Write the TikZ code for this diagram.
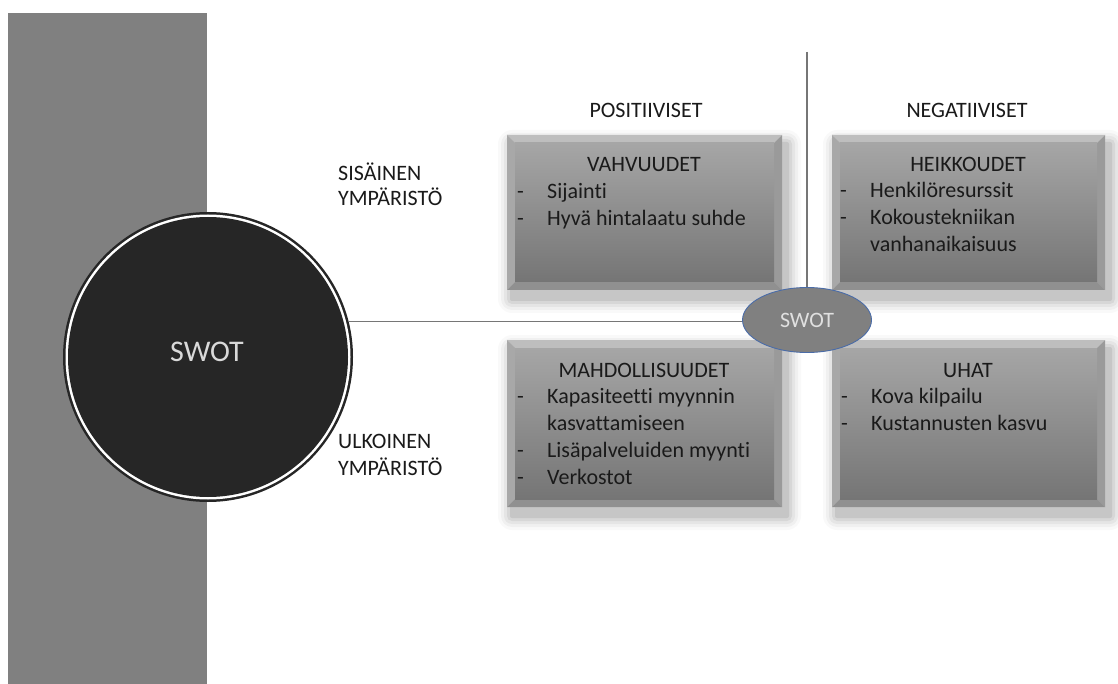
\documentclass[tikz,border=0pt]{standalone}
\usepackage{fontspec}
\setmainfont{Carlito}[Ligatures={NoCommon}]
\usetikzlibrary{shapes.geometric}
\definecolor{band}{HTML}{808080}
\definecolor{disc}{HTML}{262626}
\definecolor{ringblue}{HTML}{4A6CA8}
\definecolor{txt}{HTML}{1A1A1A}
\definecolor{linegray}{HTML}{767676}
\definecolor{bevtop}{HTML}{BEBEBE}
\definecolor{bevleft}{HTML}{A8A8A8}
\definecolor{bevright}{HTML}{9A9A9A}
\definecolor{bevbot}{HTML}{909090}
\definecolor{boxtop}{HTML}{A6A6A6}
\definecolor{boxbot}{HTML}{757575}
\tikzset{
  lbl/.style={inner sep=0pt, text=txt, font=\fontsize{22}{27}\selectfont},
  conn/.style={draw=linegray, line width=1.2pt},
}
% name, x1, y1, x2, y2
\newcommand\swotbox[5]{%
  \foreach \e/\o in {14/0.025,11/0.035,8/0.045,5/0.06,2/0.08}{%
    \fill[black, opacity=\o, rounded corners=\e pt]
      (#2+5-\e,#3+9-\e) rectangle (#4+5+\e,#5+9+\e);
  }
  \fill[bevtop] (#2,#3) -- (#4,#3) -- (#4-8,#3+8) -- (#2+8,#3+8) -- cycle;
  \fill[bevleft] (#2,#3) -- (#2+8,#3+8) -- (#2+8,#5-8) -- (#2,#5) -- cycle;
  \fill[bevright] (#4,#3) -- (#4-8,#3+8) -- (#4-8,#5-8) -- (#4,#5) -- cycle;
  \fill[bevbot] (#2,#5) -- (#2+8,#5-8) -- (#4-8,#5-8) -- (#4,#5) -- cycle;
  \shade[top color=boxtop, bottom color=boxbot] (#2+8,#3+8) rectangle (#4-8,#5-8);
  \node[inner sep=0pt, anchor=north west, minimum width={#4pt-#2pt},
        minimum height={#5pt-#3pt}] (#1) at (#2,#3) {};
}
% name, x, y(baseline), text
\newcommand\bulline[4]{%
  \node[lbl, anchor=base west] (#1d) at (#2,#3) {-};
  \node[lbl, anchor=base west] (#1) at (#2+30,#3) {#4};
}
\begin{document}
\begin{tikzpicture}[x=1pt, y=-1pt]
  \useasboundingbox (0,0) rectangle (1118,684);
  \fill[white] (0,0) rectangle (1118,684);
  % grey band
  \fill[band] (8,13) rectangle (207,684);
  % big circle
  \node[circle, fill=disc, minimum size=290pt, inner sep=0pt] (outer) at (208,357) {};
  \node[circle, fill=white, minimum size=285pt, inner sep=0pt] (ring) at (208,357) {};
  \node[circle, fill=disc, minimum size=280pt, inner sep=0pt] (disc) at (208,357) {};
  \node[inner sep=0pt, text=white!85!black, font=\fontsize{30}{36}\selectfont] (swotbig) at (207,352) {SWOT};

  % side labels
  \node[lbl, anchor=base west] (sis1) at (338,181) {SISÄINEN};
  \node[lbl, anchor=base west] (sis2) at (338,206) {YMPÄRISTÖ};
  \node[lbl, anchor=base west] (ulk1) at (338,448) {ULKOINEN};
  \node[lbl, anchor=base west] (ulk2) at (338,475) {YMPÄRISTÖ};

  % column headers
  \node[lbl, anchor=base] (pos) at (646,118) {POSITIIVISET};
  \node[lbl, anchor=base] (neg) at (967,118) {NEGATIIVISET};

  % boxes
  \swotbox{S}{507}{135}{782}{290}
  \swotbox{W}{832}{135}{1105}{290}
  \swotbox{O}{507}{340}{782}{507}
  \swotbox{T}{832}{340}{1105}{507}

  % box texts
  \node[lbl, anchor=base] (St) at (644,172) {VAHVUUDET};
  \bulline{S1}{517}{199}{Sijainti}
  \bulline{S2}{517}{226}{Hyvä hintalaatu suhde}

  \node[lbl, anchor=base] (Wt) at (968,172) {HEIKKOUDET};
  \bulline{W1}{840}{198}{Henkilöresurssit}
  \bulline{W2}{840}{225}{Kokoustekniikan}
  \node[lbl, anchor=base west] (W3) at (870,252) {vanhanaikaisuus};

  \node[lbl, anchor=base] (Ot) at (644,377) {MAHDOLLISUUDET};
  \bulline{O1}{517}{403}{Kapasiteetti myynnin}
  \node[lbl, anchor=base west] (O2) at (547,430) {kasvattamiseen};
  \bulline{O3}{517}{457}{Lisäpalveluiden myynti}
  \bulline{O4}{517}{484}{Verkostot}

  \node[lbl, anchor=base] (Tt) at (968,377) {UHAT};
  \bulline{T1}{841}{403}{Kova kilpailu}
  \bulline{T2}{841}{430}{Kustannusten kasvu}

  % small ellipse and connectors
  \node[ellipse, draw=ringblue, line width=0.9pt, fill=band, minimum width=129pt,
        minimum height=65pt, inner sep=0pt, text=white!88!black,
        font=\fontsize{22}{26}\selectfont] (es) at (807,320) {SWOT};
  \coordinate (vtop) at (807,52);
  \draw[conn] (outer.14) -- (outer.14 -| es.west);
  \draw[conn] (vtop) -- (es.north);
\end{tikzpicture}
\end{document}
